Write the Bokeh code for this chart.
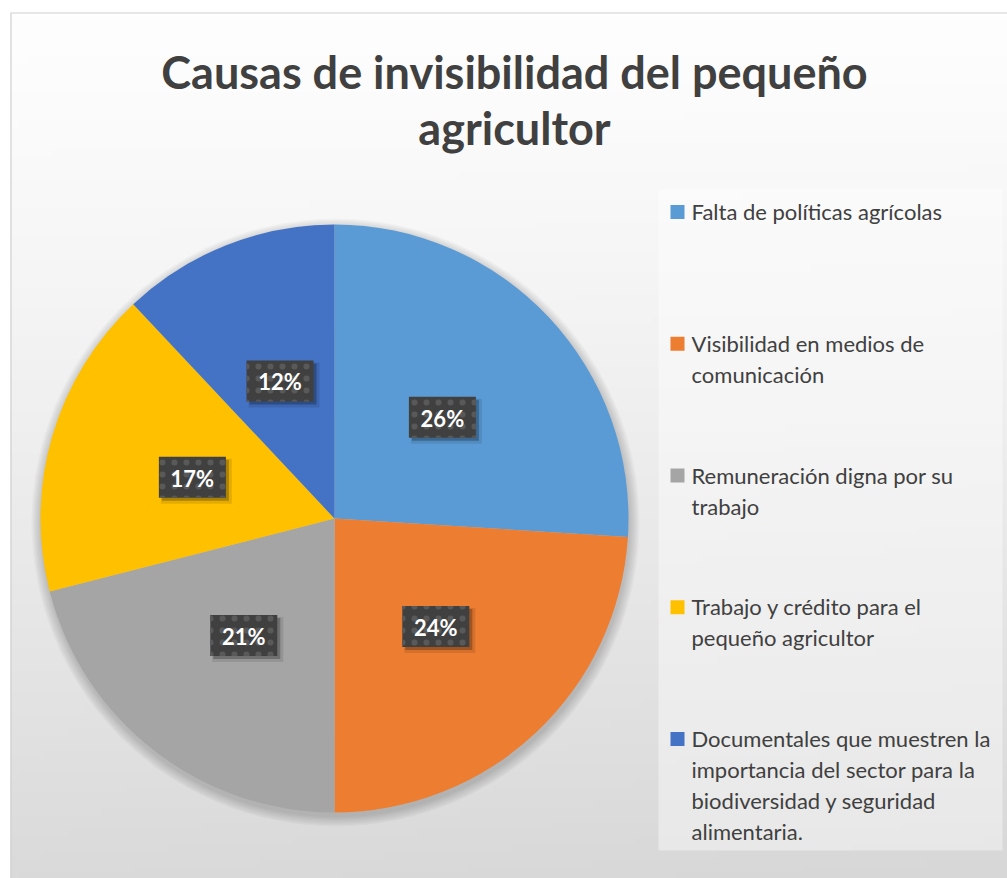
import numpy as np
from bokeh.plotting import figure
from bokeh.models import Range1d, ColumnDataSource
from bokeh.core.properties import value
from bokeh.embed import file_html
from bokeh.resources import INLINE

# ---------------- data ----------------
title_lines = ["Causas de invisibilidad del pequeño", "agricultor"]
categories = [
    "Falta de políticas agrícolas",
    "Visibilidad en medios de\ncomunicación",
    "Remuneración digna por su\ntrabajo",
    "Trabajo y crédito para el\npequeño agricultor",
    "Documentales que muestren la\nimportancia del sector para la\nbiodiversidad y seguridad\nalimentaria.",
]
percentages = [26, 24, 21, 17, 12]
colors = ["#5B9BD5", "#ED7D31", "#A5A5A5", "#FFC000", "#4472C4"]

# ---------------- figure ----------------
W, H = 1007, 878
p = figure(width=W, height=H, x_range=Range1d(0, W), y_range=Range1d(0, H),
           output_backend="svg", toolbar_location=None, min_border=0)
p.axis.visible = False
p.grid.visible = False
p.outline_line_color = None
p.background_fill_color = "white"
p.border_fill_color = "white"

def fy(y_ref):
    return H - y_ref

def fx(x_ref):
    return x_ref

# background gradient of the chart area
nx, ny = 120, 120
x0, x1 = fx(10), fx(1010)
y_top, y_bot = fy(12), fy(880)
yy = np.linspace(0, 1, ny)  # 0 = bottom row
xx = np.linspace(0, 1, nx)
X, Y = np.meshgrid(xx, yy)
t = 1 - Y  # 0 at top, 1 at bottom
c = 254 - 36 * np.power(t, 1.2) - 3 * X * t
c = np.clip(c, 0, 255).astype(np.uint32)
img = np.empty((ny, nx), dtype=np.uint32)
view = img.view(dtype=np.uint8).reshape((ny, nx, 4))
view[:, :, 0] = c
view[:, :, 1] = c
view[:, :, 2] = c
view[:, :, 3] = 255
p.image_rgba(image=[img], x=x0, y=y_bot, dw=x1 - x0, dh=y_top - y_bot)

# chart border
p.quad(left=[fx(10.5)], right=[fx(1020)], top=[fy(12.5)], bottom=[fy(900)],
       fill_color=None, line_color="#d0d0d0", line_width=1.2)

# ---------------- title ----------------
p.text(x=[fx(514)], y=[fy(71)], text=[title_lines[0]], text_font=value("Lato"),
       text_font_style="bold", text_font_size="45px", text_color="#404040",
       text_align="center", text_baseline="alphabetic")
p.text(x=[fx(514)], y=[fy(127)], text=[title_lines[1]], text_font=value("Lato"),
       text_font_style="bold", text_font_size="45px", text_color="#404040",
       text_align="center", text_baseline="alphabetic")

# ---------------- pie ----------------
cx, cy, R = fx(334), fy(518), 294
vals = np.array(percentages, dtype=float)
fr = vals / vals.sum()
cum = np.concatenate([[0], np.cumsum(fr)])
starts = np.pi / 2 - 2 * np.pi * cum[:-1]
ends = np.pi / 2 - 2 * np.pi * cum[1:]

# soft shadow under the pie
for k in range(8):
    p.circle(x=[cx + 1], y=[cy - 4], radius=R + 1 + k * 1.3, fill_color="black",
             fill_alpha=0.022, line_color=None)

src = ColumnDataSource(dict(start=starts, end=ends, color=colors))
p.wedge(x=cx, y=cy, radius=R, start_angle="start", end_angle="end",
        direction="clock", fill_color="color", line_color=None, source=src)

# data labels
mids = np.pi / 2 - 2 * np.pi * (cum[:-1] + fr / 2)
rl = 148
lx = cx + rl * np.cos(mids)
ly = cy + rl * np.sin(mids)
labels = [f"{v}%" for v in percentages]
bw, bh = 67, 41
p.rect(x=lx + 4, y=ly - 4, width=bw + 4, height=bh + 4, fill_color="black",
       fill_alpha=0.10, line_color=None)
p.rect(x=lx + 3, y=ly - 3, width=bw, height=bh, fill_color="black",
       fill_alpha=0.25, line_color=None)
p.rect(x=lx, y=ly, width=bw, height=bh, fill_color="#404040", line_color=None,
       hatch_pattern="dot", hatch_color="#595959", hatch_scale=12, hatch_weight=3)
p.text(x=lx, y=ly - 1, text=labels, text_font=value("Lato"), text_font_style="bold",
       text_font_size="22px", text_color="white", text_align="center",
       text_baseline="middle")

# ---------------- legend ----------------
p.quad(left=[fx(658)], right=[fx(1002)], top=[fy(189)], bottom=[fy(850)],
       fill_color="white", fill_alpha=0.4, line_color=None)
first_base = 218
entry_step = 131.75
line_h = 31
for i, (cat, col) in enumerate(zip(categories, colors)):
    base = first_base + i * entry_step
    p.rect(x=[fx(677)], y=[fy(base - 6.5)], width=14, height=14,
           fill_color=col, line_color=None)
    for j, line in enumerate(cat.split("\n")):
        p.text(x=[fx(691)], y=[fy(base - 7 + j * line_h)], text=[line],
               text_font=value("Lato"), text_font_size="22px", text_color="#404040",
               text_align="left", text_baseline="alphabetic")

open("out.html", "w").write(file_html(p, INLINE))
